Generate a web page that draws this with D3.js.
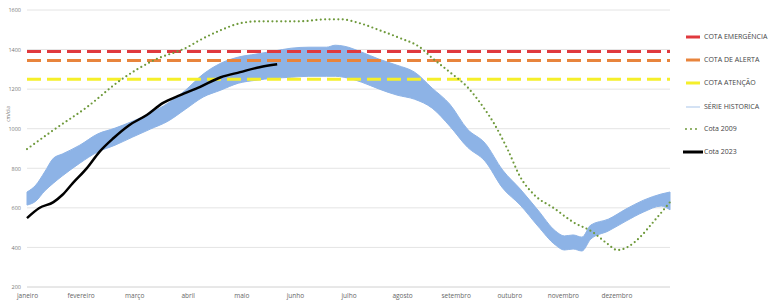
<!DOCTYPE html>
<html>
<head>
<meta charset="utf-8">
<script src="https://cdn.jsdelivr.net/npm/d3@7"></script>
<style>
  body { margin: 0; background: #fff; }
  text { font-family: "Open Sans", "Liberation Sans", sans-serif; }
</style>
</head>
<body>
<div id="chart"></div>
<script>
var svgWidth = 774
var svgHeight = 304

// month labels
var months = ["janeiro", "fevereiro", "março", "abril", "maio", "junho", "julho",
    "agosto", "setembro", "outubro", "novembro", "dezembro"]

var yTicks = [200, 400, 600, 800, 1000, 1200, 1400, 1600]

// historical band (day of year, min / max)
var histDays = [0, 5, 10, 15, 20, 30, 40, 50, 60, 70, 80, 90, 100, 110, 120, 130, 140, 150, 160, 170, 175, 180,
    190, 200, 210, 220, 230, 240, 250, 260, 270, 280, 290, 300, 305, 310, 315, 320, 330, 340, 350, 360, 365]
var histMax = [680, 715, 781, 851, 872, 917, 973, 1003, 1038, 1079, 1129, 1195, 1276, 1331, 1362, 1377, 1392, 1407, 1412, 1412, 1422, 1417,
    1387, 1351, 1321, 1286, 1205, 1124, 998, 927, 791, 695, 589, 483, 458, 463, 452, 513, 543, 594, 639, 670, 680]
var histMin = [614, 634, 685, 725, 761, 826, 882, 917, 958, 998, 1038, 1099, 1160, 1195, 1230, 1245, 1255, 1260, 1265, 1265, 1265, 1260,
    1235, 1200, 1170, 1149, 1104, 1013, 907, 836, 700, 614, 508, 412, 387, 392, 382, 442, 483, 533, 579, 609, 590]

// cota 2009
var days2009 = [0, 15, 34, 53, 72, 91, 98, 110, 121, 132, 155, 170, 178, 189, 200, 212, 223, 230, 240, 250,
    259, 265, 273, 280, 288, 299, 310, 321, 329, 335, 341, 348, 355, 365]
var cota2009 = [897, 993, 1109, 1245, 1346, 1412, 1447, 1498, 1533, 1543, 1543, 1553, 1553, 1533, 1498, 1457, 1412, 1357, 1286, 1210,
    1109, 1028, 892, 756, 665, 599, 528, 478, 422, 387, 402, 452, 523, 629]

// cota 2023
var days2023 = [0, 7, 15, 20, 26, 34, 41, 49, 58, 68, 77, 87, 98, 110, 121, 132, 142]
var cota2023 = [548, 599, 629, 665, 725, 801, 882, 952, 1018, 1069, 1129, 1170, 1210, 1260, 1286, 1311, 1326]

// reference levels
var cotaNames = ["COTA EMERGÊNCIA", "COTA DE ALERTA", "COTA ATENÇÃO"]
var cotaValues = [1390, 1345, 1250]
var cotaColors = ["#e0393e", "#e8843c", "#f5ef2a"]

var margin = { top: 10, left: 27, right: 104, bottom: 17 }
var plotWidth = svgWidth - margin.left - margin.right
var plotHeight = svgHeight - margin.top - margin.bottom

var svg = d3.select("#chart")
    .append("svg")
    .attr("width", svgWidth)
    .attr("height", svgHeight)

var chartGroup = svg.append("g")
    .attr("transform", `translate(${margin.left}, ${margin.top})`)

var xScale = d3.scaleLinear().domain([0, 365]).range([0, plotWidth])
var yScale = d3.scaleLinear().domain([200, 1600]).range([plotHeight, 0])

// gridlines
chartGroup.append("g")
    .selectAll("line")
    .data(yTicks)
    .enter()
    .append("line")
    .attr("x1", 0)
    .attr("x2", plotWidth)
    .attr("y1", d => yScale(d))
    .attr("y2", d => yScale(d))
    .attr("stroke", d => d == 200 ? "#d0d0d0" : "#e4e4e4")
    .attr("stroke-width", 1)

// y axis labels
var yAxis = chartGroup.append("g")
    .call(d3.axisLeft(yScale).tickValues(yTicks).tickFormat(d3.format("d")).tickSize(0).tickPadding(6))
yAxis.select(".domain").remove()
yAxis.selectAll("text").attr("font-size", 5.5).attr("fill", "#777")

// x axis labels
var xAxis = chartGroup.append("g")
    .attr("transform", `translate(0, ${plotHeight})`)
    .call(d3.axisBottom(xScale)
        .tickValues(d3.range(12).map(i => i * 365 / 12))
        .tickFormat((d, i) => months[i])
        .tickSize(0).tickPadding(6))
xAxis.select(".domain").remove()
xAxis.selectAll("text").attr("font-size", 6.5).attr("fill", "#666")

// y axis title
chartGroup.append("text")
    .attr("transform", "rotate(-90)")
    .attr("x", -yScale(1075))
    .attr("y", -margin.left + 10)
    .attr("text-anchor", "middle")
    .attr("font-size", 5)
    .attr("fill", "#777")
    .text("cm/dia")

// historical band
var histData = histDays.map((d, i) => ({ day: d, lo: histMin[i], hi: histMax[i] }))
chartGroup.append("path")
    .datum(histData)
    .attr("fill", "#8db3e6")
    .attr("stroke", "#8db3e6")
    .attr("stroke-width", 1)
    .attr("d", d3.area()
        .x(d => xScale(d.day))
        .y0(d => yScale(d.lo))
        .y1(d => yScale(d.hi))
        .curve(d3.curveMonotoneX))

// dashed reference lines
chartGroup.selectAll(".cota")
    .data(cotaValues)
    .enter()
    .append("line")
    .attr("class", "cota")
    .attr("x1", 0)
    .attr("x2", plotWidth)
    .attr("y1", d => yScale(d))
    .attr("y2", d => yScale(d))
    .attr("stroke", (d, i) => cotaColors[i])
    .attr("stroke-width", 3)
    .attr("stroke-dasharray", "14 6")

// cota 2009 dotted
var line = d3.line()
    .x(d => xScale(d[0]))
    .y(d => yScale(d[1]))
    .curve(d3.curveMonotoneX)

chartGroup.append("path")
    .datum(days2009.map((d, i) => [d, cota2009[i]]))
    .attr("fill", "none")
    .attr("stroke", "#6f9a3c")
    .attr("stroke-width", 2.2)
    .attr("stroke-linecap", "round")
    .attr("stroke-dasharray", "0 4.4")
    .attr("d", line)

// cota 2023
chartGroup.append("path")
    .datum(days2023.map((d, i) => [d, cota2023[i]]))
    .attr("fill", "none")
    .attr("stroke", "#000")
    .attr("stroke-width", 2.5)
    .attr("d", line)

// legend
var legendItems = cotaNames.concat(["SÉRIE HISTORICA", "Cota 2009", "Cota 2023"])
var legendY = [37, 60, 83, 107, 129, 152]
var legend = svg.append("g")
var rows = legend.selectAll("g")
    .data(legendItems)
    .enter()
    .append("g")
    .attr("transform", (d, i) => `translate(686, ${legendY[i]})`)

rows.append("line")
    .attr("x1", (d, i) => i == 5 ? -3 : 0)
    .attr("x2", (d, i) => i == 5 ? 17 : 14)
    .attr("stroke", (d, i) => i < 3 ? cotaColors[i] : i == 3 ? "#c6d9f1" : i == 4 ? "#6f9a3c" : "#000")
    .attr("stroke-width", (d, i) => i == 3 ? 1.5 : i == 4 ? 2 : 3)
    .attr("stroke-linecap", (d, i) => i == 4 ? "round" : "butt")
    .attr("stroke-dasharray", (d, i) => i == 4 ? "0 5" : null)

rows.append("text")
    .attr("x", 18)
    .attr("dy", "0.35em")
    .attr("font-size", 7)
    .attr("fill", "#444")
    .text(d => d)
</script>
</body>
</html>
